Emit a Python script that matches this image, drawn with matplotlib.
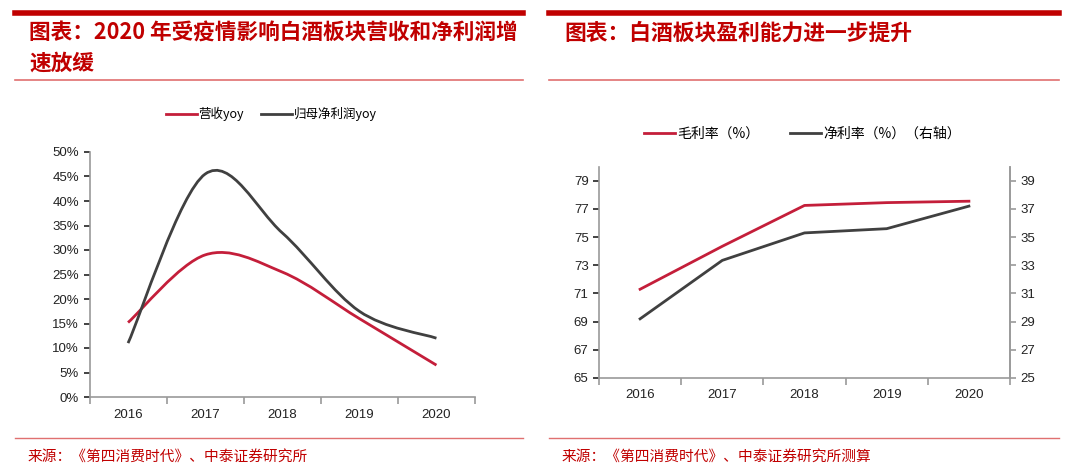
import matplotlib
matplotlib.use("Agg")
import matplotlib.pyplot as plt
from matplotlib.path import Path
from matplotlib.patches import PathPatch
from matplotlib.lines import Line2D

# ── Datos ─────────────────────────────────────────────────────────────────
years = ["2016", "2017", "2018", "2019", "2020"]
rev_yoy = [15.2, 29.0, 25.5, 16.0, 6.5]        # 营收yoy (%)
np_yoy = [11.0, 45.5, 33.5, 17.5, 12.0]        # 归母净利润yoy (%)
gross_margin = [71.3, 74.35, 77.25, 77.45, 77.55]   # 毛利率 (%)
net_margin = [29.2, 33.35, 35.3, 35.6, 37.2]        # 净利率 (%) 右轴

RED = "#C41E3A"
GRAY = "#404040"
TITLE_RED = "#C00000"
LINE_RED = "#E07070"
SPINE = "#9A9A9A"
CJK = ["Noto Sans CJK SC", "DejaVu Sans"]
NUM = ["Liberation Sans", "DejaVu Sans"]

fig = plt.figure(figsize=(10.8, 4.75), dpi=100)
W, H = 1080, 475


def fx(px):
    return px / W


def fy(py):
    return 1 - py / H


def smooth_path(xs, ys):
    # curva suavizada tipo Excel (Catmull-Rom -> Bezier)
    pts = list(zip(xs, ys))
    verts = [pts[0]]
    codes = [Path.MOVETO]
    n = len(pts)
    for i in range(n - 1):
        p0 = pts[i - 1] if i > 0 else pts[i]
        p1 = pts[i]
        p2 = pts[i + 1]
        p3 = pts[i + 2] if i + 2 < n else pts[i + 1]
        c1 = (p1[0] + (p2[0] - p0[0]) / 6, p1[1] + (p2[1] - p0[1]) / 6)
        c2 = (p2[0] - (p3[0] - p1[0]) / 6, p2[1] - (p3[1] - p1[1]) / 6)
        verts += [c1, c2, p2]
        codes += [Path.CURVE4] * 3
    return Path(verts, codes)


def hline(x0, x1, y, lw, color):
    fig.add_artist(Line2D([fx(x0), fx(x1)], [fy(y), fy(y)], lw=lw, color=color,
                          transform=fig.transFigure))


def style_axes(ax, right=False):
    for s in ["top"] + ([] if right else ["right"]):
        ax.spines[s].set_visible(False)
    for s in ["left", "bottom", "right"]:
        ax.spines[s].set_color(SPINE)
        ax.spines[s].set_linewidth(1.2)
    ax.set_xlim(-0.5, len(years) - 0.5)
    ax.set_xticks(range(len(years)))
    ax.set_xticklabels(years, fontfamily=NUM)
    ax.set_xticks([i - 0.5 for i in range(len(years) + 1)], minor=True)
    ax.tick_params(axis="x", which="major", length=0)
    ax.tick_params(axis="x", which="minor", length=5, color=SPINE, width=1.2)
    ax.tick_params(axis="y", length=4, color=SPINE, width=1.2)


# ── Panel izquierdo ───────────────────────────────────────────────────────
hline(15, 523, 13, 4, TITLE_RED)
hline(15, 523, 80, 1.2, LINE_RED)
fig.text(fx(29), fy(33), "图表：2020 年受疫情影响白酒板块营收和净利润增", fontsize=15.6,
         fontweight="bold", color=TITLE_RED, family=CJK, va="center", style="italic")
fig.text(fx(29), fy(63), "速放缓", fontsize=15.6, fontweight="bold", color=TITLE_RED,
         family=CJK, va="center", style="italic")
hline(15, 523, 438, 1.0, LINE_RED)
fig.text(fx(28), fy(457), "来源：《第四消费时代》、中泰证券研究所", fontsize=10.6,
         color=TITLE_RED, family=CJK, va="center")

ax1 = fig.add_axes([fx(89.5), fy(397), fx(475 - 89.5), (397 - 152) / H])
style_axes(ax1)
ax1.set_ylim(0, 50)
ax1.set_yticks(range(0, 51, 5))
ax1.set_yticklabels([f"{v}%" for v in range(0, 51, 5)], fontfamily=NUM)
ax1.tick_params(axis="both", labelsize=9.5, colors="#222222")
ax1.tick_params(axis="x", pad=9)
xs = list(range(len(years)))
ax1.add_patch(PathPatch(smooth_path(xs, rev_yoy), fill=False, edgecolor=RED, lw=2))
ax1.add_patch(PathPatch(smooth_path(xs, np_yoy), fill=False, edgecolor=GRAY, lw=2))
h1 = [Line2D([], [], color=RED, lw=2), Line2D([], [], color=GRAY, lw=2)]
fig.legend(h1, ["营收yoy", "归母净利润yoy"], loc="center", ncol=2,
           bbox_to_anchor=(fx(271), fy(114)), frameon=False, prop={"family": CJK, "size": 9},
           handlelength=2.5, handletextpad=0.1, columnspacing=1.4)

# ── Panel derecho ─────────────────────────────────────────────────────────
hline(549, 1059, 13, 4, TITLE_RED)
hline(549, 1059, 80, 1.2, LINE_RED)
fig.text(fx(564), fy(33), "图表：白酒板块盈利能力进一步提升", fontsize=15.7,
         fontweight="bold", color=TITLE_RED, family=CJK, va="center", style="italic")
hline(549, 1059, 438, 1.0, LINE_RED)
fig.text(fx(562), fy(457), "来源：《第四消费时代》、中泰证券研究所测算", fontsize=10.6,
         color=TITLE_RED, family=CJK, va="center")

ax2 = fig.add_axes([fx(599), fy(378), fx(1010 - 599), (378 - 166.7) / H])
style_axes(ax2, right=True)
ax2.set_ylim(65, 80)
ax2.set_yticks(range(65, 80, 2))
ax2.tick_params(axis="both", labelsize=9.5, colors="#222222")
ax2.tick_params(axis="x", pad=8)
for lab in ax2.get_yticklabels():
    lab.set_fontfamily(NUM)
ax2.plot(xs, gross_margin, color=RED, lw=2)

ax3 = ax2.twinx()
ax3.set_ylim(25, 40)
ax3.set_yticks(range(25, 40, 2))
for s in ["top", "left", "bottom"]:
    ax3.spines[s].set_visible(False)
ax3.spines["right"].set_color(SPINE)
ax3.spines["right"].set_linewidth(1.2)
ax3.tick_params(axis="y", length=4, color=SPINE, width=1.2, labelsize=9.5, colors="#222222")
for lab in ax3.get_yticklabels():
    lab.set_fontfamily(NUM)
ax3.plot(xs, net_margin, color=GRAY, lw=2)

h2 = [Line2D([], [], color=RED, lw=2), Line2D([], [], color=GRAY, lw=2)]
fig.legend(h2, ["毛利率（%）", "净利率（%）（右轴）"], loc="center", ncol=2,
           bbox_to_anchor=(fx(802), fy(134)), frameon=False, prop={"family": CJK, "size": 10},
           handlelength=2.3, handletextpad=0.1, columnspacing=2.2)

fig.savefig("out.png", dpi=100)
